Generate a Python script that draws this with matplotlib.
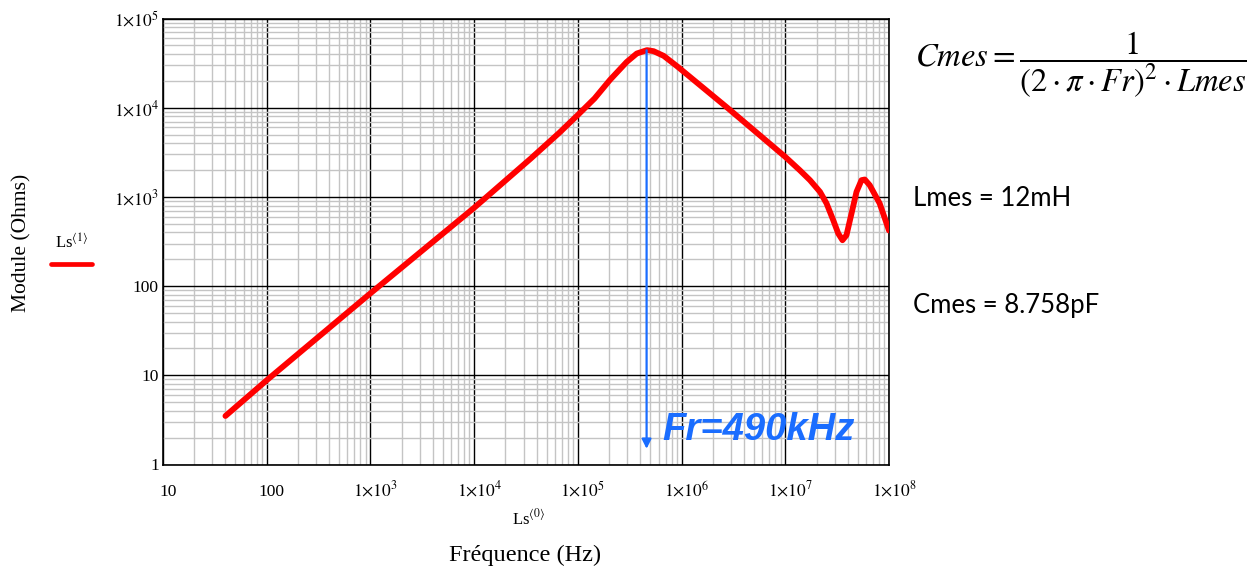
import numpy as np
import matplotlib
matplotlib.use("Agg")
import matplotlib.pyplot as plt
from matplotlib.ticker import LogLocator, NullFormatter
from matplotlib.lines import Line2D
from matplotlib.transforms import ScaledTranslation

plt.rcParams['mathtext.fontset'] = 'stix'
plt.rcParams['font.family'] = ['Liberation Serif', 'DejaVu Serif']

# impedance curve (Hz, Ohms)
freq = [40, 100, 1e3, 1e4, 3.5e4, 6.64e4, 1e5, 1.45e5, 2.04e5, 2.96e5, 3.7e5,
        4.64e5, 5.38e5, 6.73e5, 9.1e5, 2.76e6, 1e7, 1.38e7, 1.73e7,
        2.16e7, 2.5e7, 2.9e7, 3.24e7, 3.56e7, 3.89e7, 4.35e7, 4.86e7,
        5.43e7, 5.84e7, 6.52e7, 8.13e7, 1e8]
module = [3.5, 8.8, 83, 755, 2680, 5250, 8300, 12700, 20500, 32600, 40500,
          44200, 43000, 38100, 29000, 10000, 2810, 1990, 1540,
          1140, 845, 548, 389, 327, 372, 651, 1140,
          1540, 1567, 1352, 845, 420]

fr = 4.6e5          # resonance marker position
fr_top = 44000
fr_bottom = 1.5

x_ticks = [10, 100, 1e3, 1e4, 1e5, 1e6, 1e7, 1e8]
x_tick_labels = ['10', '100', r'$1{\times}10^{3}$', r'$1{\times}10^{4}$',
                 r'$1{\times}10^{5}$', r'$1{\times}10^{6}$',
                 r'$1{\times}10^{7}$', r'$1{\times}10^{8}$']
y_ticks = [1, 10, 100, 1e3, 1e4, 1e5]
y_tick_labels = ['1', '10', '100', r'$1{\times}10^{3}$',
                 r'$1{\times}10^{4}$', r'$1{\times}10^{5}$']

W, H = 1257, 572
fig = plt.figure(figsize=(W / 100, H / 100), dpi=100)
ax = fig.add_axes([163 / W, (H - 464.5) / H, 726 / W, 446 / H])

ax.set_xscale('log')
ax.set_yscale('log')
ax.set_xlim(10, 1e8)
ax.set_ylim(1, 1e5)

# grid : black decades, grey sub-divisions
ax.xaxis.set_minor_locator(LogLocator(base=10, subs=np.arange(2, 10), numticks=50))
ax.yaxis.set_minor_locator(LogLocator(base=10, subs=np.arange(2, 10), numticks=50))
ax.xaxis.set_minor_formatter(NullFormatter())
ax.yaxis.set_minor_formatter(NullFormatter())
ax.grid(which='minor', color='#c4c4c4', lw=1.0)
ax.grid(which='major', color='black', lw=1.0)
ax.set_axisbelow(True)

ax.set_xticks(x_ticks)
ax.set_xticklabels(x_tick_labels)
ax.set_yticks(y_ticks)
ax.set_yticklabels(y_tick_labels)
ax.tick_params(which='both', length=0, labelsize=12.5)
ax.tick_params(axis='x', pad=23)
ax.tick_params(axis='y', pad=3)
# Mathcad puts the x labels a little right of the grid line
shift = ScaledTranslation(5 / 100, 0, fig.dpi_scale_trans)
for lbl in ax.get_xticklabels():
    lbl.set_va('baseline')
    lbl.set_transform(lbl.get_transform() + shift)

for s in ax.spines.values():
    s.set_color('black')
    s.set_linewidth(1.2)

ax.plot(freq, module, color='#ff0000', lw=4.2, solid_capstyle='round',
        solid_joinstyle='round', zorder=3)

# resonance arrow
ax.annotate('', xy=(fr, fr_bottom), xytext=(fr, fr_top),
            arrowprops=dict(arrowstyle='-|>', color='#1a6dff', lw=1.6,
                            mutation_scale=14, shrinkA=0, shrinkB=0),
            zorder=4)
ax.text(6.5e5, 1.87, 'Fr=490kHz', color='#1a6dff', fontsize=27.5,
        family='Liberation Sans', weight='bold', style='italic',
        va='baseline', ha='left', zorder=5)

# axis titles, Mathcad style
fig.text(22 / W, 1 - 243 / H, 'Module (Ohms)', rotation=90,
         ha='center', va='center', fontsize=15.5)
fig.text(525 / W, 1 - 555 / H, 'Fréquence (Hz)', ha='center', va='center',
         fontsize=17.5)
fig.text(529 / W, 1 - 518 / H, r'Ls$^{\langle 0\rangle}$', ha='center',
         va='center', fontsize=12)
fig.text(72 / W, 1 - 243 / H, r'Ls$^{\langle 1\rangle}$', ha='center',
         va='center', fontsize=12)
fig.add_artist(Line2D([51 / W, 92 / W], [1 - 264 / H, 1 - 264 / H],
                      transform=fig.transFigure, color='#ff0000', lw=3.4,
                      solid_capstyle='round'))

# formula and values
fig.text(915 / W, 1 - 65 / H,
         r'$\mathit{Cmes} = \dfrac{1}{(2\cdot\pi\cdot\mathit{Fr})^{2}\cdot\mathit{Lmes}}$',
         ha='left', va='center', fontsize=23.5)
fig.text(913 / W, 1 - 199 / H, 'Lmes = 12mH', ha='left', va='center',
         fontsize=18.5, family='Lato')
fig.text(913 / W, 1 - 306 / H, 'Cmes = 8.758pF', ha='left', va='center',
         fontsize=18.5, family='Lato')

fig.savefig('out.png', dpi=100)
